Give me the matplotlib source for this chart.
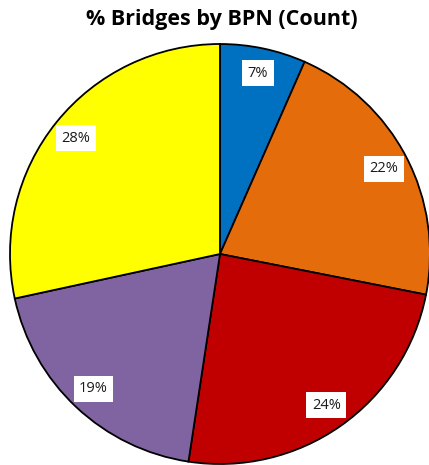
import matplotlib
matplotlib.use("Agg")
import matplotlib.pyplot as plt

# slice shares (percent), clockwise from 12 o'clock
shares = [6.6, 21.5, 24.3, 19.2, 28.4]
pct_labels = ["7%", "22%", "24%", "19%", "28%"]
colors = ["#0070C0", "#E46C0A", "#C00000", "#8064A2", "#FFFF00"]

fig = plt.figure(figsize=(4.29, 4.65), dpi=100)
ax = fig.add_axes([10 / 429, 1 / 465, 420 / 429, 420 / 465])

wedges, texts = ax.pie(
    shares,
    colors=colors,
    startangle=90,
    counterclock=False,
    labels=pct_labels,
    labeldistance=0.88,
    wedgeprops=dict(edgecolor="black", linewidth=1.3),
    textprops=dict(fontsize=10.5, family="Open Sans", color="#1a1a1a"),
)
for t in texts:
    t.set_horizontalalignment("center")
    t.set_verticalalignment("center")
    t.set_bbox(dict(facecolor="white", edgecolor="none", pad=4))

ax.set_aspect("equal")
ax.set_xlim(-1.0, 1.0)
ax.set_ylim(-1.0, 1.0)

fig.text(0.517, 1 - 19 / 465, "% Bridges by BPN (Count)", ha="center", va="center",
         fontsize=15.5, fontweight="bold", family="Open Sans")

fig.savefig("out.png", dpi=100)
